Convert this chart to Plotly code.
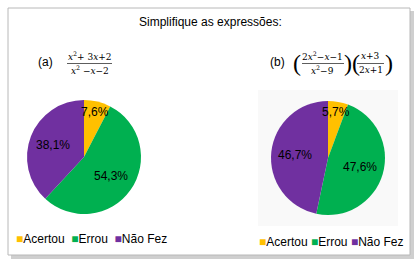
import math
import plotly.graph_objects as go

labels = ["Acertou", "Errou", "Não Fez"]
colors = ["#FFC000", "#00B050", "#7030A0"]
values_a = [7.6, 54.3, 38.1]
values_b = [5.7, 47.6, 46.7]
title_text = "Simplifique as expressões:"

W, H = 419, 264

def fmt(v):
    return f"{v:.1f}%".replace(".", ",")

def px(x):
    return x / W

def py(y):
    return 1 - y / H

# pie boxes in pixels (x0, x1, y0_top, y1_bottom)
box_a = (27, 141, 100, 214)
box_b = (271, 385, 101, 215)

fig = go.Figure()
annotations = []

def add_pie(values, box):
    x0, x1, yt, yb = box
    fig.add_trace(go.Pie(
        labels=labels, values=values, textinfo="none",
        sort=False, direction="clockwise", rotation=0,
        marker=dict(colors=colors, line=dict(width=0)),
        domain=dict(x=[px(x0), px(x1)], y=[py(yb), py(yt)]),
        showlegend=False, hoverinfo="skip",
    ))
    cx, cy = (x0 + x1) / 2, (yt + yb) / 2
    R = min(x1 - x0, yb - yt) / 2
    total = sum(values)
    cum = 0
    for v in values:
        mid = (cum + v / 2) / total * 2 * math.pi
        cum += v
        f = 0.82 if v / total < 0.1 else 0.58
        lx = cx + f * R * math.sin(mid)
        ly = cy - f * R * math.cos(mid)
        annotations.append(dict(text=fmt(v), x=px(lx), y=py(ly), xref="paper", yref="paper",
                                showarrow=False, xanchor="center", yanchor="middle",
                                font=dict(family="Liberation Sans", size=12, color="black")))

shapes = [
    dict(type="rect", xref="paper", yref="paper", x0=px(11), x1=px(414), y0=py(259), y1=py(11),
         fillcolor="#cfcfcf", line=dict(width=0), layer="below"),
    dict(type="rect", xref="paper", yref="paper", x0=px(8), x1=px(410), y0=py(255), y1=py(8),
         fillcolor="white", line=dict(width=1, color="#b8b8b8"), layer="below"),
    dict(type="rect", xref="paper", yref="paper", x0=px(258), x1=px(398), y0=py(226), y1=py(90),
         fillcolor="#f9f9f9", line=dict(width=0), layer="below"),
    # fraction bars
    dict(type="line", xref="paper", yref="paper", x0=px(67), x1=px(112), y0=py(63.5), y1=py(63.5),
         line=dict(width=0.8, color="#333")),
    dict(type="line", xref="paper", yref="paper", x0=px(302), x1=px(344), y0=py(63.5), y1=py(63.5),
         line=dict(width=0.8, color="#333")),
    dict(type="line", xref="paper", yref="paper", x0=px(357), x1=px(384), y0=py(63.5), y1=py(63.5),
         line=dict(width=0.8, color="#333")),
]

def ann(text, x, y, size=12, family="Liberation Sans", xanchor="center"):
    return dict(text=text, x=px(x), y=py(y), xref="paper", yref="paper", showarrow=False,
                xanchor=xanchor, yanchor="middle", font=dict(family=family, size=size, color="black"))

add_pie(values_a, box_a)
add_pie(values_b, box_b)

serif = "DejaVu Serif"
def legend_text(sep):
    return sep.join(f"<span style='color:{c}'>■</span>{l}" for l, c in zip(labels, colors))

annotations += [
    ann(title_text, 210, 22, 12),
    ann("(a)", 45, 62, 12),
    ann("<i>x</i><sup>2</sup>+ 3<i>x</i>+2", 89.5, 56, 9, serif),
    ann("<i>x</i><sup>2</sup> −<i>x</i>−2", 89.5, 70, 9, serif),
    ann("(b)", 277, 62, 12),
    ann("(", 297, 63, 24, "Liberation Serif"),
    ann("2<i>x</i><sup>2</sup>−<i>x</i>−1", 322.5, 56, 9, serif),
    ann("<i>x</i><sup>2</sup>−9", 322.5, 70, 9, serif),
    ann(")(", 351.5, 63, 24, "Liberation Serif"),
    ann("<i>x</i>+3", 370.5, 56, 9, serif),
    ann("2<i>x</i>+1", 370.5, 70, 9, serif),
    ann(")", 389, 63, 24, "Liberation Serif"),
    ann(legend_text("&nbsp;&nbsp;"), 14, 239, 12, xanchor="left"),
    ann(legend_text("&nbsp;"), 257, 242, 12, xanchor="left"),
]

fig.update_layout(
    width=W, height=H, margin=dict(l=0, r=0, t=0, b=0),
    paper_bgcolor="white", plot_bgcolor="white",
    shapes=shapes, annotations=annotations,
)
fig.write_html("out.html")
